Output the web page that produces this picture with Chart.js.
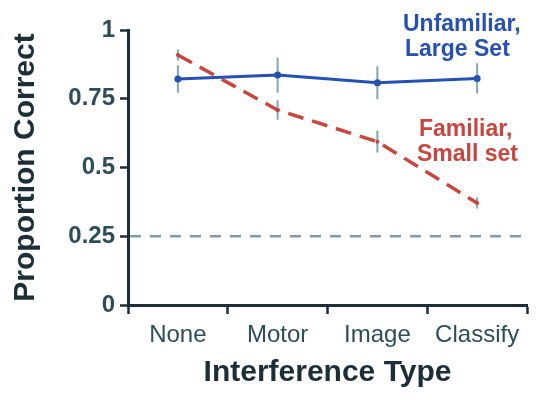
<!DOCTYPE html>
<html>
<head>
<meta charset="utf-8">
<script src="https://cdn.jsdelivr.net/npm/chart.js@4.4.1/dist/chart.umd.min.js"></script>
<style>
  html, body { margin: 0; padding: 0; background: #ffffff; }
  #wrap { width: 538px; height: 402px; }
</style>
</head>
<body>
<div id="wrap"><canvas id="c" width="538" height="402"></canvas></div>
<script>
// Interference conditions on the x axis
const categories = ['None', 'Motor', 'Image', 'Classify'];

// Unfamiliar objects, large set (solid blue)
const unfamiliarLarge = [0.822, 0.836, 0.808, 0.824];
const unfamiliarLargeErr = [0.05, 0.064, 0.06, 0.055];

// Familiar objects, small set (dashed red)
const familiarSmall = [0.909, 0.709, 0.594, 0.371];
const familiarSmallErr = [0.02, 0.035, 0.04, 0.02];

// Chance performance
const chanceLevel = 0.25;

const FONT = "'Liberation Sans', Arial, Helvetica, sans-serif";
const AXIS_COLOR = '#1c2f36';
const TICK_TEXT = '#2d4d59';
const BLUE = '#2651b3';
const RED = '#c9463e';
const ERR_COLOR = '#80a7b4';

// Vertical error bars, drawn beneath the lines
const errorBars = {
  id: 'errorBars',
  beforeDatasetsDraw(chart) {
    const { ctx, scales: { x, y } } = chart;
    const sets = [[unfamiliarLarge, unfamiliarLargeErr], [familiarSmall, familiarSmallErr]];
    ctx.save();
    ctx.strokeStyle = ERR_COLOR;
    ctx.lineWidth = 2;
    sets.forEach(([vals, errs]) => {
      vals.forEach((v, i) => {
        const px = x.getPixelForValue(i);
        ctx.beginPath();
        ctx.moveTo(px, y.getPixelForValue(v - errs[i]));
        ctx.lineTo(px, y.getPixelForValue(v + errs[i]));
        ctx.stroke();
      });
    });
    ctx.restore();
  }
};

// Dashed chance line across the plot
const chanceLine = {
  id: 'chanceLine',
  beforeDatasetsDraw(chart) {
    const { ctx, chartArea, scales: { y } } = chart;
    const py = y.getPixelForValue(chanceLevel);
    ctx.save();
    ctx.strokeStyle = '#7e9ca8';
    ctx.lineWidth = 2.5;
    ctx.setLineDash([11, 9]);
    ctx.beginPath();
    ctx.moveTo(chartArea.left + 2, py);
    ctx.lineTo(chartArea.right, py);
    ctx.stroke();
    ctx.restore();
  }
};

// Series labels placed beside the lines
const seriesLabels = {
  id: 'seriesLabels',
  afterDatasetsDraw(chart) {
    const { ctx } = chart;
    ctx.save();
    ctx.font = `bold 23px ${FONT}`;
    ctx.textAlign = 'left';
    ctx.textBaseline = 'alphabetic';
    ctx.fillStyle = BLUE;
    ctx.fillText('Unfamiliar,', 403, 31);
    ctx.fillText('Large Set', 405, 56);
    ctx.fillStyle = RED;
    ctx.fillText('Familiar,', 419, 136);
    ctx.fillText('Small set', 417, 161);
    ctx.restore();
  }
};

new Chart(document.getElementById('c'), {
  type: 'line',
  data: {
    labels: categories,
    datasets: [
      {
        label: 'Unfamiliar, Large Set',
        data: unfamiliarLarge,
        borderColor: BLUE,
        backgroundColor: BLUE,
        borderWidth: 3,
        pointRadius: 3.5,
        pointBorderWidth: 0,
        tension: 0
      },
      {
        label: 'Familiar, Small set',
        data: familiarSmall,
        borderColor: RED,
        backgroundColor: RED,
        borderWidth: 3.5,
        borderDash: [16, 9],
        pointRadius: 2,
        pointBorderWidth: 0,
        tension: 0
      }
    ]
  },
  options: {
    responsive: false,
    animation: false,
    devicePixelRatio: 1,
    layout: { padding: { top: 30, right: 11, left: 0, bottom: 0 } },
    plugins: {
      legend: { display: false },
      tooltip: { enabled: false }
    },
    scales: {
      x: {
        type: 'category',
        offset: true,
        afterFit(scale) { scale.height = 97; },
        grid: {
          offset: true,
          drawOnChartArea: false,
          drawTicks: true,
          tickLength: 9,
          tickWidth: 2.5,
          tickColor: AXIS_COLOR
        },
        border: { color: AXIS_COLOR, width: 3 },
        ticks: {
          color: TICK_TEXT,
          font: { family: FONT, size: 24 },
          padding: 7,
          maxRotation: 0
        },
        title: {
          display: true,
          text: 'Interference Type',
          color: AXIS_COLOR,
          font: { family: FONT, size: 30, weight: 'bold', lineHeight: 1 },
          padding: { top: 0, bottom: 14 }
        }
      },
      y: {
        min: 0,
        max: 1,
        afterFit(scale) { scale.width = 128; },
        grid: {
          drawOnChartArea: false,
          drawTicks: true,
          tickLength: 8,
          tickWidth: 2.5,
          tickColor: AXIS_COLOR
        },
        border: { color: AXIS_COLOR, width: 3 },
        ticks: {
          stepSize: 0.25,
          color: TICK_TEXT,
          font: { family: FONT, size: 24, weight: 'bold' },
          padding: 5,
          callback: (v) => String(v)
        },
        title: {
          display: true,
          text: 'Proportion Correct',
          color: AXIS_COLOR,
          font: { family: FONT, size: 30, weight: 'bold', lineHeight: 1 },
          padding: { top: 11, bottom: 0 }
        }
      }
    }
  },
  plugins: [chanceLine, errorBars, seriesLabels]
});
</script>
</body>
</html>
